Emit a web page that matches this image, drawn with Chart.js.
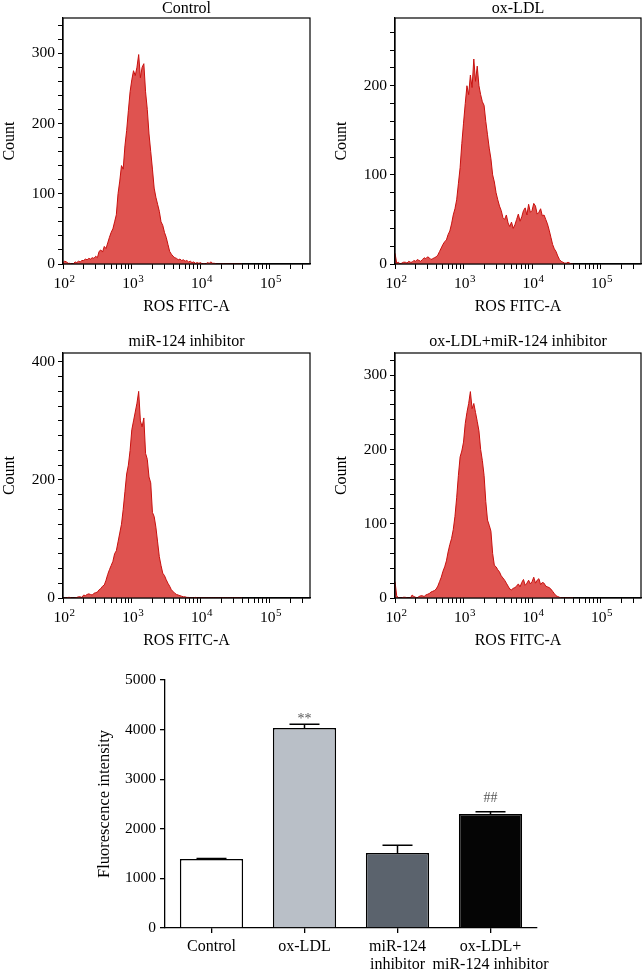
<!DOCTYPE html>
<html>
<head>
<meta charset="utf-8">
<script src="https://cdn.jsdelivr.net/npm/chart.js@4.4.1/dist/chart.umd.min.js"></script>
<style>
  body { margin: 0; background: #fff; }
  #wrap { position: relative; width: 642px; height: 971px; }
  canvas { position: absolute; }
</style>
</head>
<body>
<div id="wrap">
  <canvas id="h1" width="321" height="320" style="left:0;top:0"></canvas>
  <canvas id="h2" width="321" height="320" style="left:321px;top:0"></canvas>
  <canvas id="h3" width="321" height="334" style="left:0;top:320px"></canvas>
  <canvas id="h4" width="321" height="334" style="left:321px;top:320px"></canvas>
  <canvas id="bars" width="642" height="311" style="left:0;top:660px"></canvas>
</div>
<script>
// histogram bins: log10(ROS FITC-A) from 2.000, one bin every 0.025 decade (10 per row)
const binStart = 2.0;
const binStep = 0.025;
const controlCounts = [
  2,4,3,1,1,0,0,3,2,4,
  3,5,5,7,6,8,7,9,8,11,
  9,18,20,17,25,22,30,38,45,50,
  60,70,100,118,140,135,168,190,218,245,
  262,275,268,280,298,265,280,285,245,220,
  185,160,135,108,95,85,75,60,55,45,
  38,28,18,14,11,9,8,6,7,5,
  6,4,5,3,4,2,3,1,2,1,
  2,0,1,0,2,1,3,1,1,0,
  0,0,0,0,0,0,0,0,0,0,
  0,0,0,0,0];
const oxldlCounts = [
  12,1,2,0,1,2,2,1,3,2,
  2,4,3,5,4,3,5,7,6,8,
  7,5,6,7,8,10,14,18,22,25,
  27,33,37,45,55,62,72,90,108,135,
  158,180,200,190,212,198,230,205,222,200,
  190,182,178,160,145,130,118,100,92,80,
  72,65,60,52,50,55,46,42,47,40,
  44,50,56,48,53,60,63,55,67,58,
  60,68,65,56,58,62,54,55,50,45,
  38,30,22,17,14,9,5,3,2,1,
  1,2,1,0,0];
const inhibitorCounts = [
  0,0,0,1,1,0,0,0,1,2,
  2,1,5,4,6,7,6,5,8,9,
  10,14,16,20,22,30,40,48,55,62,
  75,80,95,110,125,150,180,210,225,250,
  285,300,315,330,350,300,290,305,245,235,
  205,195,145,138,120,95,70,55,42,38,
  31,25,20,14,11,8,6,5,4,3,
  2,2,1,1,0,0,0,1,0,0,
  0,0,0,0,0,0,0,0,0,0,
  0,0,0,0,0,0,0,0,0,0,
  0,0,0,0,0];
const comboCounts = [
  22,3,0,0,0,1,1,0,0,0,
  4,2,1,0,2,3,3,2,4,5,
  6,8,9,10,12,16,22,28,36,42,
  50,62,72,80,92,110,135,165,190,198,
  210,235,250,262,278,255,262,250,238,225,
  200,185,165,130,105,98,90,60,44,42,
  38,35,30,27,24,20,16,12,11,13,
  14,16,19,15,21,25,17,20,24,19,
  22,28,20,24,26,18,21,20,16,15,
  14,12,9,6,3,2,1,0,0,0,
  0,0,0,0,0];

const xDecades = [2, 3, 4, 5];

// bar chart
const barLabels = ['Control', 'ox-LDL', ['miR-124', 'inhibitor'], ['ox-LDL+', 'miR-124 inhibitor']];
const barValues = [1390, 4030, 1510, 2300];
const barErrors = [10, 80, 160, 45];
const barMarks = ['', '**', '', '##'];
const barColors = ['#ffffff', '#b9bfc7', '#5b636d', '#050505'];

const fam = "'Liberation Serif', 'Times New Roman', serif";
Chart.defaults.font.family = fam;
Chart.defaults.color = '#000';

const tickFont = { family: fam, size: 15.5 };
const labelFont = { family: fam, size: 16 };

const frame = {
  id: 'frame',
  afterDraw(chart) {
    const a = chart.chartArea, ctx = chart.ctx;
    ctx.save();
    ctx.strokeStyle = '#000';
    ctx.lineWidth = 1.2;
    ctx.strokeRect(a.left, a.top, a.right - a.left, a.bottom - a.top);
    ctx.restore();
  }
};

// x labels as 10 with a raised exponent
const powerLabels = {
  id: 'powerLabels',
  afterDraw(chart) {
    const ctx = chart.ctx, x = chart.scales.x;
    const base = chart.chartArea.bottom + 24;
    ctx.save();
    ctx.fillStyle = '#000';
    ctx.textBaseline = 'alphabetic';
    ctx.textAlign = 'left';
    xDecades.forEach(n => {
      const px = x.getPixelForValue(n);
      ctx.font = "15.5px " + fam;
      const w1 = ctx.measureText('10').width;
      ctx.font = "11px " + fam;
      const w2 = ctx.measureText(String(n)).width;
      const x0 = px - (w1 + w2) / 2 + 1;
      ctx.font = "15.5px " + fam;
      ctx.fillText('10', x0, base);
      ctx.font = "11px " + fam;
      ctx.fillText(String(n), x0 + w1 + 0.5, base - 6.5);
    });
    ctx.restore();
  }
};

const panels = [
  { id: 'h1', title: 'Control', counts: controlCounts, yMax: 350, yMinor: 20, yMajor: 100, padLeft: 0, padRight: 11, titlePad: { top: 0, bottom: 0.4 } },
  { id: 'h2', title: 'ox-LDL', counts: oxldlCounts, yMax: 276, yMinor: 20, yMajor: 100, padLeft: 11, padRight: 1, titlePad: { top: 0, bottom: 0.4 } },
  { id: 'h3', title: 'miR-124 inhibitor', counts: inhibitorCounts, yMax: 415, yMinor: 25, yMajor: 200, padLeft: 0, padRight: 11, titlePad: { top: 13.2, bottom: 2.2 } },
  { id: 'h4', title: 'ox-LDL+miR-124 inhibitor', counts: comboCounts, yMax: 330, yMinor: 20, yMajor: 100, padLeft: 11, padRight: 1, titlePad: { top: 13.2, bottom: 2.2 } }
];

const xMax = 5.59;

panels.forEach(p => {
  const pts = p.counts.map((c, i) => ({ x: binStart + i * binStep, y: c }));
  new Chart(document.getElementById(p.id), {
    type: 'line',
    data: {
      datasets: [{
        data: pts,
        fill: 'origin',
        backgroundColor: '#df5350',
        borderColor: '#c8100e',
        borderWidth: 1,
        pointRadius: 0,
        tension: 0
      }]
    },
    options: {
      responsive: false,
      animation: false,
      layout: { padding: { left: p.padLeft, right: p.padRight, top: 0, bottom: 0 } },
      plugins: {
        legend: { display: false },
        tooltip: { enabled: false },
        title: {
          display: true, text: p.title, fullSize: false,
          font: { family: fam, size: 16, weight: 'normal', lineHeight: 1.1 },
          color: '#000', padding: p.titlePad
        }
      },
      scales: {
        x: {
          type: 'linear', min: 2, max: xMax,
          afterBuildTicks: s => {
            const t = [];
            xDecades.forEach(n => {
              for (let k = 1; k <= 9; k++) {
                const v = n + Math.log10(k);
                if (v <= xMax) t.push({ value: v });
              }
            });
            s.ticks = t;
          },
          afterFit: s => { s.height = 56; },
          ticks: { callback: () => '', autoSkip: false, maxRotation: 0 },
          grid: { drawOnChartArea: false, tickLength: 5, color: '#000', lineWidth: 1 },
          border: { color: '#000', width: 1.2 },
          title: { display: true, text: 'ROS FITC-A', font: labelFont, color: '#000', padding: { top: 0, bottom: 3.4 } }
        },
        y: {
          min: 0, max: p.yMax,
          afterBuildTicks: s => {
            const t = [];
            for (let v = 0; v <= p.yMax; v += p.yMinor) t.push({ value: v });
            s.ticks = t;
          },
          afterFit: s => { s.width = 63; },
          ticks: {
            callback: v => (v % p.yMajor === 0 ? String(v) : ''),
            font: tickFont, color: '#000', padding: 3, autoSkip: false
          },
          grid: { drawOnChartArea: false, tickLength: 5, color: '#000', lineWidth: 1 },
          border: { color: '#000', width: 1.2 },
          title: { display: true, text: 'Count', font: labelFont, color: '#000', padding: { top: 0, bottom: 0 } }
        }
      }
    },
    plugins: [frame, powerLabels]
  });
});

const errorBars = {
  id: 'errorBars',
  afterDatasetsDraw(chart) {
    const ctx = chart.ctx, y = chart.scales.y;
    const meta = chart.getDatasetMeta(0);
    ctx.save();
    meta.data.forEach((bar, i) => {
      const top = y.getPixelForValue(barValues[i]);
      const cap = y.getPixelForValue(barValues[i] + barErrors[i]);
      ctx.strokeStyle = '#000';
      ctx.lineWidth = 1.5;
      ctx.beginPath();
      ctx.moveTo(bar.x, top);
      ctx.lineTo(bar.x, cap);
      ctx.moveTo(bar.x - 15, cap);
      ctx.lineTo(bar.x + 15, cap);
      ctx.stroke();
      if (barMarks[i]) {
        ctx.fillStyle = '#555';
        ctx.font = "14px " + fam;
        ctx.textAlign = 'center';
        ctx.textBaseline = 'middle';
        const dy = barMarks[i].includes('*') ? 5 : 13;
        ctx.fillText(barMarks[i], bar.x, cap - dy);
      }
    });
    ctx.restore();
  }
};

new Chart(document.getElementById('bars'), {
  type: 'bar',
  data: {
    labels: barLabels,
    datasets: [{
      data: barValues,
      backgroundColor: barColors,
      borderColor: '#000',
      borderWidth: 1.5,
      barPercentage: 0.68,
      categoryPercentage: 1
    }]
  },
  options: {
    responsive: false,
    animation: false,
    layout: { padding: { left: 0, right: 105, top: 20, bottom: 0 } },
    plugins: { legend: { display: false }, tooltip: { enabled: false } },
    scales: {
      x: {
        afterFit: s => { s.height = 43; },
        ticks: { font: { family: fam, size: 16, lineHeight: 1.15 }, color: '#000', padding: 4.5, maxRotation: 0, autoSkip: false },
        grid: { offset: false, drawOnChartArea: false, tickLength: 5, color: '#000', lineWidth: 1.3 },
        border: { color: '#000', width: 1.3 }
      },
      y: {
        min: 0, max: 5000,
        afterFit: s => { s.width = 165; },
        ticks: { stepSize: 1000, callback: v => String(v), font: tickFont, color: '#000', padding: 4 },
        grid: { drawOnChartArea: false, tickLength: 5, color: '#000', lineWidth: 1.3 },
        border: { color: '#000', width: 1.3 },
        title: { display: true, text: 'Fluorescence intensity', font: { family: fam, size: 16.5 }, color: '#000', padding: { top: 95, bottom: 0 } }
      }
    }
  },
  plugins: [errorBars]
});
</script>
</body>
</html>
